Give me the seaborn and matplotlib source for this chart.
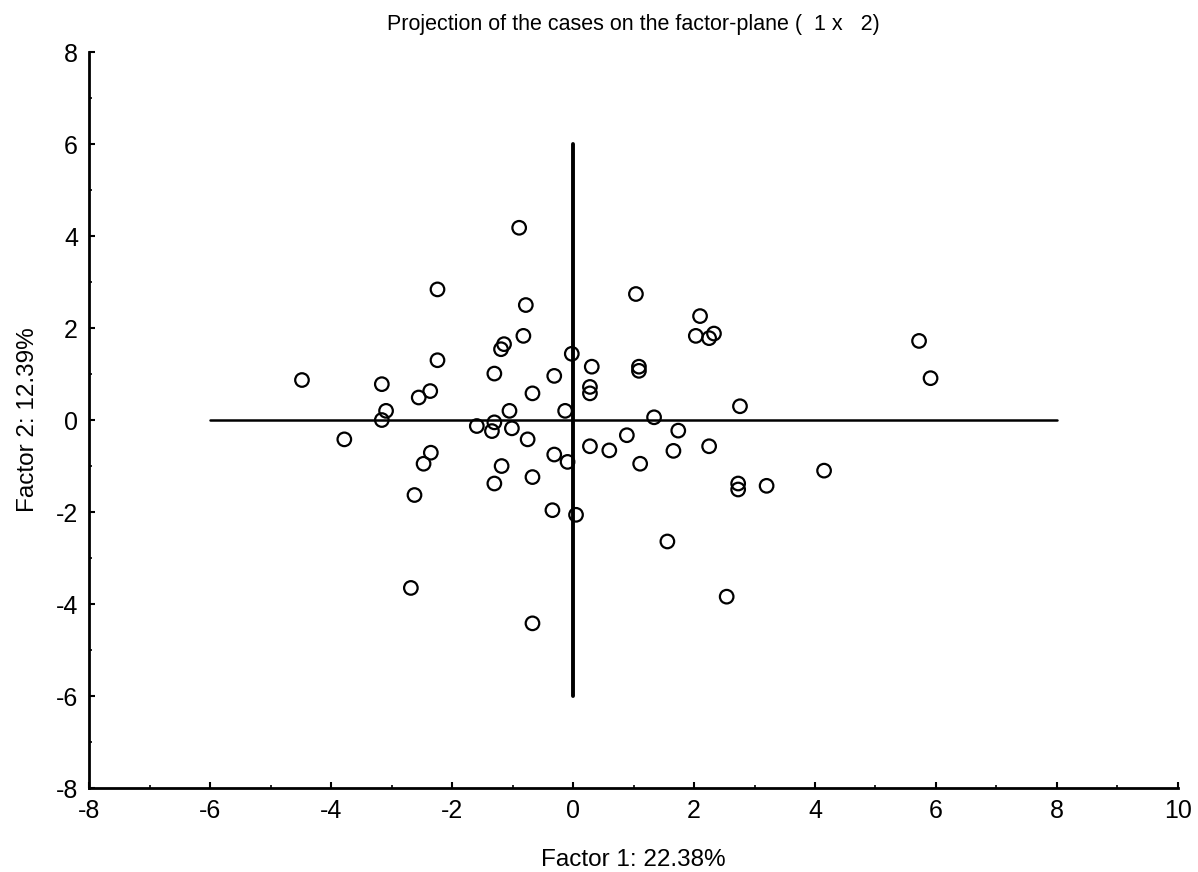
import matplotlib
matplotlib.use("Agg")
import matplotlib.pyplot as plt
import seaborn as sns
import pandas as pd
from matplotlib.ticker import MultipleLocator

factor1 = [-2.24, -0.78, -0.82, -1.14, -1.19, -0.02, 0.31, -2.24, -1.30, -0.31,
           0.28, 0.28, -0.67, -4.48, -3.16, -3.09, -3.16, -3.78, -2.55, -2.36,
           -2.35, -2.47, -2.62, -1.59, -1.30, -1.34, -1.05, -1.01, -0.75, -0.13,
           0.28, -0.31, -0.09, -1.18, -0.67, -1.30, -0.34, 0.05,
           1.04, 2.10, 2.03, 2.25, 2.33, 1.09, 1.09, 2.76, 1.34, 1.74,
           0.89, 0.60, 1.66, 2.25, 1.11, 2.73, 2.73, 3.20, 4.15,
           -0.89, 5.72, 5.91, 1.56, 2.54, -2.68, -0.67]
factor2 = [2.84, 2.50, 1.83, 1.65, 1.54, 1.44, 1.16, 1.30, 1.01, 0.96,
           0.72, 0.58, 0.58, 0.87, 0.78, 0.20, 0.00, -0.42, 0.49, 0.63,
           -0.71, -0.95, -1.63, -0.13, -0.05, -0.24, 0.20, -0.18, -0.42, 0.20,
           -0.57, -0.75, -0.91, -1.00, -1.24, -1.38, -1.96, -2.06,
           2.74, 2.26, 1.83, 1.78, 1.88, 1.16, 1.07, 0.30, 0.06, -0.23,
           -0.33, -0.66, -0.67, -0.57, -0.95, -1.38, -1.51, -1.43, -1.10,
           4.18, 1.72, 0.91, -2.64, -3.84, -3.65, -4.42]

# reference axes lines through the origin
hline_x = [-6, 8]
hline_y = [0, 0]
vline_x = [0, 0]
vline_y = [-6, 6]

xticks = [-8, -6, -4, -2, 0, 2, 4, 6, 8, 10]
yticks = [-8, -6, -4, -2, 0, 2, 4, 6, 8]

df = pd.DataFrame({"Factor 1": factor1, "Factor 2": factor2})

sns.set_style("ticks")
plt.rcParams["font.family"] = ["Liberation Sans", "DejaVu Sans"]
plt.rcParams["axes.unicode_minus"] = False
plt.rcParams["text.color"] = "black"
plt.rcParams["axes.labelcolor"] = "black"
plt.rcParams["xtick.color"] = "black"
plt.rcParams["ytick.color"] = "black"

fig = plt.figure(figsize=(11.98, 8.72), dpi=100)
ax = fig.add_axes([0.0743, 0.0963, 0.909, 0.844])

ax.plot(hline_x, hline_y, color="black", lw=1.8, zorder=1)
ax.plot(vline_x, vline_y, color="black", lw=2.8, zorder=1)

sns.scatterplot(data=df, x="Factor 1", y="Factor 2", ax=ax, marker="o",
                s=95, facecolor="none", edgecolor="black", linewidth=1.6,
                zorder=3)

ax.set_xlim(-8, 10)
ax.set_ylim(-8, 8)
ax.set_xticks(xticks)
ax.set_yticks(yticks)
ax.xaxis.set_minor_locator(MultipleLocator(1))
ax.yaxis.set_minor_locator(MultipleLocator(1))
ax.tick_params(which="major", direction="in", length=4, width=1.5, labelsize=18, pad=8)
ax.tick_params(which="minor", direction="in", length=2, width=1.2)

for side in ["top", "right"]:
    ax.spines[side].set_visible(False)
for side in ["left", "bottom"]:
    ax.spines[side].set_linewidth(2)
    ax.spines[side].set_color("black")

ax.set_xlabel("Factor 1: 22.38%", fontsize=17.5, labelpad=18.5, color="black")
ax.set_ylabel("Factor 2: 12.39%", fontsize=17.5, labelpad=12, color="black")
ax.set_title("Projection of the cases on the factor-plane (  1 x   2)", fontsize=15.5, pad=16, color="black")

fig.savefig("out.png", dpi=100)
